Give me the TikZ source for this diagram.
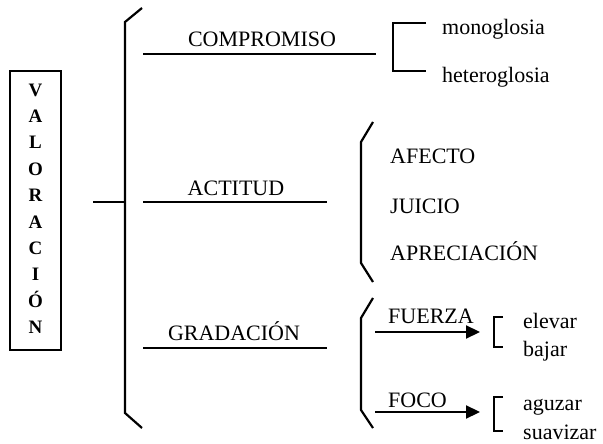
\documentclass[tikz,border=0pt]{standalone}
\usepackage{fontspec}
\setmainfont{Liberation Serif}
\usetikzlibrary{arrows.meta}
\begin{document}
\begin{tikzpicture}[x=1pt,y=-1pt,
  ln/.style={line width=2.2pt},
  br/.style={line width=2.2pt,line join=miter},
  up/.style={font=\fontsize{22}{24}\selectfont,inner sep=0pt},
  lo/.style={font=\fontsize{22}{24}\selectfont,inner sep=0pt,anchor=base west},
  vl/.style={font=\bfseries\fontsize{19}{20}\selectfont,inner sep=0pt,anchor=base},
  arr/.style={line width=2.2pt,-{Triangle[length=14pt,width=13pt]}}]
\useasboundingbox (0,0) rectangle (603,444);
% title box
\node[draw,line width=2pt,minimum width=51pt,minimum height=279pt,inner sep=0pt] (box) at (35.5,210.5) {};
\foreach \l [count=\i from 0] in {V,A,L,O,R,A,C,I,Ó,N}
  \node[vl] (t\i) at (35.5,96+26.4*\i) {\l};
% main brace
\coordinate (stub) at (93,202);
\coordinate (mb) at (125,202);
\draw[ln] (stub) -- (mb);
\draw[br] (142,8) -- (125,22) -- (125,413) -- (142,428);
% level-1 lines and labels
\coordinate (c1) at (143,54); \coordinate (c2) at (376,54);
\coordinate (a1) at (143,202); \coordinate (a2) at (327,202);
\coordinate (g1) at (143,348); \coordinate (g2) at (327,348);
\draw[ln] (c1) -- (c2);
\draw[ln] (a1) -- (a2);
\draw[ln] (g1) -- (g2);
\node[up,anchor=base] (comp) at (262,47) {COMPROMISO};
\node[up,anchor=base] (act) at (236,195) {ACTITUD};
\node[up,anchor=base] (grad) at (234,340) {GRADACIÓN};
% compromiso bracket
\draw[br] (426,23) -- (393,23) -- (393,71) -- (426,71);
\node[lo] (mono) at (442,35) {monoglosia};
\node[lo] (hete) at (442,83) {heteroglosia};
% actitud brace
\draw[br] (373,122) -- (361,142) -- (361,263) -- (373,282);
\node[lo] (afe) at (390,163) {AFECTO};
\node[lo] (jui) at (390,213) {JUICIO};
\node[lo] (apr) at (390,260) {APRECIACIÓN};
% gradacion brace
\draw[br] (373,298) -- (361,318) -- (361,410) -- (373,428);
\node[lo] (fue) at (388,323) {FUERZA};
\node[lo] (foc) at (388,407) {FOCO};
\coordinate (f1) at (375,332); \coordinate (f2) at (480,332);
\coordinate (o1) at (375,412); \coordinate (o2) at (480,412);
\draw[arr] (f1) -- (f2);
\draw[arr] (o1) -- (o2);
% small brackets
\draw[br] (503,317) -- (494,317) -- (494,347) -- (503,347);
\draw[br] (503,397) -- (494,397) -- (494,431) -- (503,431);
\node[lo] (ele) at (523,328) {elevar};
\node[lo] (baj) at (523,356) {bajar};
\node[lo] (agu) at (523,410) {aguzar};
\node[lo] (sua) at (523,439) {suavizar};
\end{tikzpicture}
\end{document}
